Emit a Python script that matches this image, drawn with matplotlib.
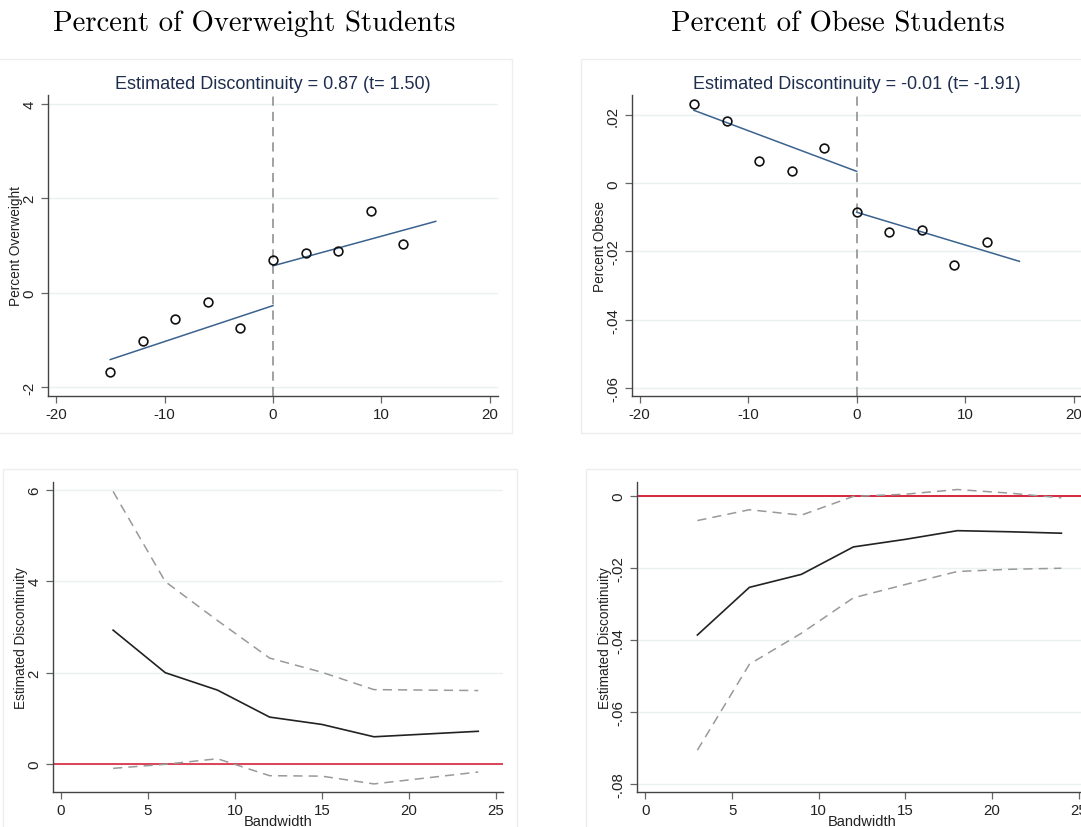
import numpy as np
import matplotlib
matplotlib.use("Agg")
import matplotlib.pyplot as plt
from matplotlib.patches import Rectangle
from matplotlib.ticker import FuncFormatter

plt.rcParams['font.family'] = ['Liberation Sans', 'DejaVu Sans']

# binned scatter data (running variable bins)
bins = [-15, -12, -9, -6, -3, 0, 3, 6, 9, 12]
overweight = [-1.68, -1.01, -0.55, -0.20, -0.75, 0.69, 0.84, 0.89, 1.73, 1.04]
obese = [0.0234, 0.0182, 0.0066, 0.0037, 0.0104, -0.0085, -0.0143, -0.0136, -0.0240, -0.0173]

# fitted lines, left and right of the cutoff
fit_x_left = [-15, 0]
fit_x_right = [0, 15]
ow_fit_left = [-1.41, -0.27]
ow_fit_right = [0.57, 1.51]
ob_fit_left = [0.0214, 0.0035]
ob_fit_right = [-0.0085, -0.0229]

# bandwidth sensitivity
bandwidth = [3, 6, 9, 12, 15, 18, 21, 24]
ow_est = [2.93, 2.00, 1.62, 1.03, 0.87, 0.60, 0.66, 0.72]
ow_hi = [5.96, 3.99, 3.14, 2.32, 2.01, 1.63, 1.62, 1.61]
ow_lo = [-0.09, 0.00, 0.12, -0.25, -0.26, -0.43, -0.30, -0.17]
ob_est = [-0.0386, -0.0254, -0.0218, -0.0142, -0.0121, -0.0097, -0.0100, -0.0104]
ob_hi = [-0.0069, -0.0039, -0.0054, -0.0002, 0.0004, 0.0017, 0.0007, -0.0006]
ob_lo = [-0.0705, -0.0467, -0.0381, -0.0283, -0.0246, -0.0210, -0.0204, -0.0201]

W, H = 1081, 828
fig = plt.figure(figsize=(W / 100, H / 100), dpi=100)

GRID = '#e9f1f2'
SPINE = '#444444'
NAVY = '#1f2d4e'
BLUE = '#3a628e'
RED = '#d7263d'


def px_axes(l, r, t, b):
    ax = fig.add_axes([l / W, 1 - b / H, (r - l) / W, (b - t) / H])
    ax._px = (l, r)
    return ax


def stata_fmt(v, pos):
    if abs(v) < 1e-12:
        return '0'
    s = ('%g' % v)
    s = s.replace('0.', '.')
    return s


def style(ax, yticks, xticks, ylabel, label_right, xlabel=None):
    ax.set_facecolor('white')
    for s in ['top', 'right']:
        ax.spines[s].set_visible(False)
    for s in ['left', 'bottom']:
        ax.spines[s].set_color(SPINE)
        ax.spines[s].set_linewidth(1.0)
    ax.set_yticks(yticks)
    ax.set_xticks(xticks)
    ax.yaxis.set_major_formatter(FuncFormatter(stata_fmt))
    ax.xaxis.set_major_formatter(FuncFormatter(stata_fmt))
    ax.tick_params(axis='both', direction='out', length=5, width=0.9, color='#666666',
                   labelsize=10.8, labelcolor='#222222', pad=3)
    ax.tick_params(axis='y', pad=3.5)
    for lab in ax.get_yticklabels():
        lab.set_rotation(90)
        lab.set_va('center')
    ax.grid(True, axis='y', color=GRID, lw=1.0, zorder=0)
    ax.set_axisbelow(True)
    ax.set_ylabel(ylabel, fontsize=9.8, color='#222222')
    l, r = ax._px
    ax.yaxis.set_label_coords((label_right - l) / (r - l), 0.5)
    if xlabel:
        ax.set_xlabel(xlabel, fontsize=10.5, color='#222222', labelpad=-2)


# faint graph region borders
for (x0, y0, x1, y1) in [(-2, 60, 511.7, 434.3), (580.7, 60, 1090, 434.3),
                         (3, 470, 516.7, 835), (586, 470, 1090, 835)]:
    fig.add_artist(Rectangle((x0 / W, 1 - y1 / H), (x1 - x0) / W, (y1 - y0) / H,
                             transform=fig.transFigure, fill=False, ec='#eeeeee', lw=1))

# top-left
ax1 = px_axes(48, 498, 96, 397)
ax1.set_xlim(-20.74, 20.74)
ax1.set_ylim(-2.18, 4.18)
style(ax1, [-2, 0, 2, 4], [-20, -10, 0, 10, 20], 'Percent Overweight', 23)
ax1.axvline(0, color='#888888', lw=1.1, ls=(0, (6, 4)))
ax1.plot(fit_x_left, ow_fit_left, color=BLUE, lw=1.1)
ax1.plot(fit_x_right, ow_fit_right, color=BLUE, lw=1.1)
ax1.plot(bins, overweight, 'o', ms=6.3, mfc='none', mec='#111111', mew=1.2)
ax1.set_title('Estimated Discontinuity = 0.87 (t= 1.50)', fontsize=13, color=NAVY, pad=5)

# top-right
ax2 = px_axes(631.7, 1081.7, 96, 397)
ax2.set_xlim(-20.74, 20.74)
ax2.set_ylim(-0.0624, 0.0259)
style(ax2, [-0.06, -0.04, -0.02, 0, 0.02], [-20, -10, 0, 10, 20], 'Percent Obese', 607)
ax2.axvline(0, color='#888888', lw=1.1, ls=(0, (6, 4)))
ax2.plot(fit_x_left, ob_fit_left, color=BLUE, lw=1.1)
ax2.plot(fit_x_right, ob_fit_right, color=BLUE, lw=1.1)
ax2.plot(bins, obese, 'o', ms=6.3, mfc='none', mec='#111111', mew=1.2)
ax2.set_title('Estimated Discontinuity = -0.01 (t= -1.91)', fontsize=13, color=NAVY, pad=5)

# bottom-left
ax3 = px_axes(53.3, 503.3, 483.3, 792.7)
ax3.set_xlim(-0.44, 25.44)
ax3.set_ylim(-0.60, 6.16)
style(ax3, [0, 2, 4, 6], [0, 5, 10, 15, 20, 25], 'Estimated Discontinuity', 28, 'Bandwidth')
ax3.axhline(0, color=RED, lw=1.2)
ax3.plot(bandwidth, ow_hi, color='#999999', lw=1.1, ls=(0, (6, 4)))
ax3.plot(bandwidth, ow_lo, color='#999999', lw=1.1, ls=(0, (6, 4)))
ax3.plot(bandwidth, ow_est, color='#222222', lw=1.2)

# bottom-right
ax4 = px_axes(636.7, 1087.4, 483.3, 792.7)
ax4.set_xlim(-0.5, 25.5)
ax4.set_ylim(-0.082, 0.0037)
style(ax4, [-0.08, -0.06, -0.04, -0.02, 0], [0, 5, 10, 15, 20, 25], 'Estimated Discontinuity', 612,
      'Bandwidth')
ax4.axhline(0, color=RED, lw=1.4)
ax4.plot(bandwidth, ob_hi, color='#999999', lw=1.1, ls=(0, (6, 4)))
ax4.plot(bandwidth, ob_lo, color='#999999', lw=1.1, ls=(0, (6, 4)))
ax4.plot(bandwidth, ob_est, color='#222222', lw=1.2)

# panel headings (LaTeX-style serif)
fig.text(254 / W, 1 - 24 / H, 'Percent of Overweight Students', family='cmr10',
         fontsize=20.7, ha='center', va='center')
fig.text(838 / W, 1 - 24 / H, 'Percent of Obese Students', family='cmr10',
         fontsize=20.7, ha='center', va='center')

fig.savefig('out.png', dpi=100)
